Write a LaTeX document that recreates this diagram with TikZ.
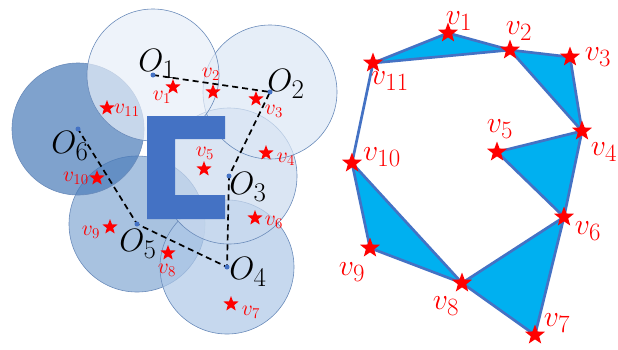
\documentclass[tikz,border=0pt]{standalone}
\usetikzlibrary{shapes.geometric, backgrounds}
\definecolor{cblue}{HTML}{4472C4}
\definecolor{ccyan}{HTML}{00B0F0}
\definecolor{cedge}{HTML}{6A8BBA}
\definecolor{cdiskA}{HTML}{E7EEF8}
\definecolor{cdiskB}{HTML}{DBE7F5}
\definecolor{cdiskC}{HTML}{CADAEE}
\definecolor{cdiskD}{HTML}{AEC8E7}
\definecolor{cdiskE}{HTML}{83A8D3}
\definecolor{cdiskF}{HTML}{487AB8}
\tikzset{
  disk/.style={fill=#1, fill opacity=0.7, draw=cedge, line width=0.6pt},
  centre/.style={circle, fill=cblue, inner sep=0pt, minimum size=5pt},
  pin/.style={star, star points=5, star point ratio=2.4, fill=red, inner sep=0pt, minimum size=#1},
  pin/.default=16pt,
  olabel/.style={font=\fontsize{24.88}{26}\selectfont, inner sep=0pt, scale=1.3},
  vlabel/.style={text=red, font=\fontsize{17.28}{18}\selectfont, inner sep=0pt, scale=1.25},
  bigvlabel/.style={text=red, font=\fontsize{24.88}{26}\selectfont, inner sep=0pt, scale=1.2},
  tri/.style={fill=ccyan, draw=cblue, line width=2.7pt, line join=round},
  route/.style={draw=black, line width=1.7pt, dash pattern=on 6pt off 4pt},
}

\begin{document}
\begin{tikzpicture}[x=1pt, y=-1pt]
  \useasboundingbox (0,0) rectangle (618,349);
  % centres of the disks
  \foreach \n/\x/\y in {1/153/75, 2/270/92, 3/229/176, 4/227/267, 5/137/224, 6/78/129}
    \node[centre] (o\n) at (\x,\y) {};
  % stars of the left picture
  \foreach \n/\x/\y in {1/173/87, 2/213/92, 3/256/99, 4/266/153, 5/204/169, 6/255/218,
                        7/231/304, 8/168/253, 9/110/227, 10/97/178, 11/107/108}
    \node[pin] (lv\n) at (\x,\y) {};
  % stars of the right picture
  \foreach \n/\x/\y in {1/448/33, 2/510/50, 3/570/57, 4/582/131, 5/497/152, 6/564/217,
                        7/535/335, 8/462/283, 9/370/248, 10/352/163, 11/373/63}
    \node[pin=21pt] (rv\n) at (\x,\y) {};

  \begin{scope}[on background layer]
    \draw[disk=cdiskE] (o5) circle (68);
    \draw[disk=cdiskD] (o4) circle (67);
    \draw[disk=cdiskF] (o6) circle (66);
    \draw[disk=cdiskC] (o3) circle (68);
    \draw[disk=cdiskB] (o2) circle (67);
    \draw[disk=cdiskA] (o1) circle (66);
    \fill[cblue] (147,116) -- (225,116) -- (225,139) -- (175,139) -- (175,195)
      -- (225,195) -- (225,219) -- (147,219) -- cycle;
    \draw[route] (o1.center) -- (o2.center) -- (o3.center) -- (o4.center)
      -- (o5.center) -- (o6.center);
    % triangles
    \draw[tri] (rv11.center) -- (rv1.center) -- (rv2.center) -- cycle;
    \draw[tri] (rv2.center) -- (rv3.center) -- (rv4.center) -- cycle;
    \draw[tri] (rv5.center) -- (rv4.center) -- (rv6.center) -- cycle;
    \draw[tri] (rv10.center) -- (rv9.center) -- (rv8.center) -- cycle;
    \draw[tri] (rv8.center) -- (rv6.center) -- (rv7.center) -- cycle;
    \draw[draw=cblue, line width=2.7pt] (rv11.center) -- (rv10.center);
  \end{scope}

  \foreach \n/\x/\y in {1/157/64, 2/286/84, 3/248/187, 4/248/272, 5/138/244, 6/70/146}
    \node[olabel] (ol\n) at (\x,\y) {$O_{\n}$};
  \foreach \n/\x/\y in {1/162/97, 2/211/74, 3/274/111, 4/286/159, 5/205/153, 6/274/222,
                        7/251/312, 8/167/270, 9/91/232, 10/76/178, 11/127/110}
    \node[vlabel] (lt\n) at (\x,\y) {$v_{\n}$};
  \foreach \n/\x/\y in {1/459/21, 2/519/31, 3/598/57, 4/604/152, 5/500/129, 6/588/231,
                        7/557/323, 8/446/306, 9/352/272, 10/382/157, 11/390/81}
    \node[bigvlabel] (rt\n) at (\x,\y) {$v_{\n}$};
\end{tikzpicture}
\end{document}
